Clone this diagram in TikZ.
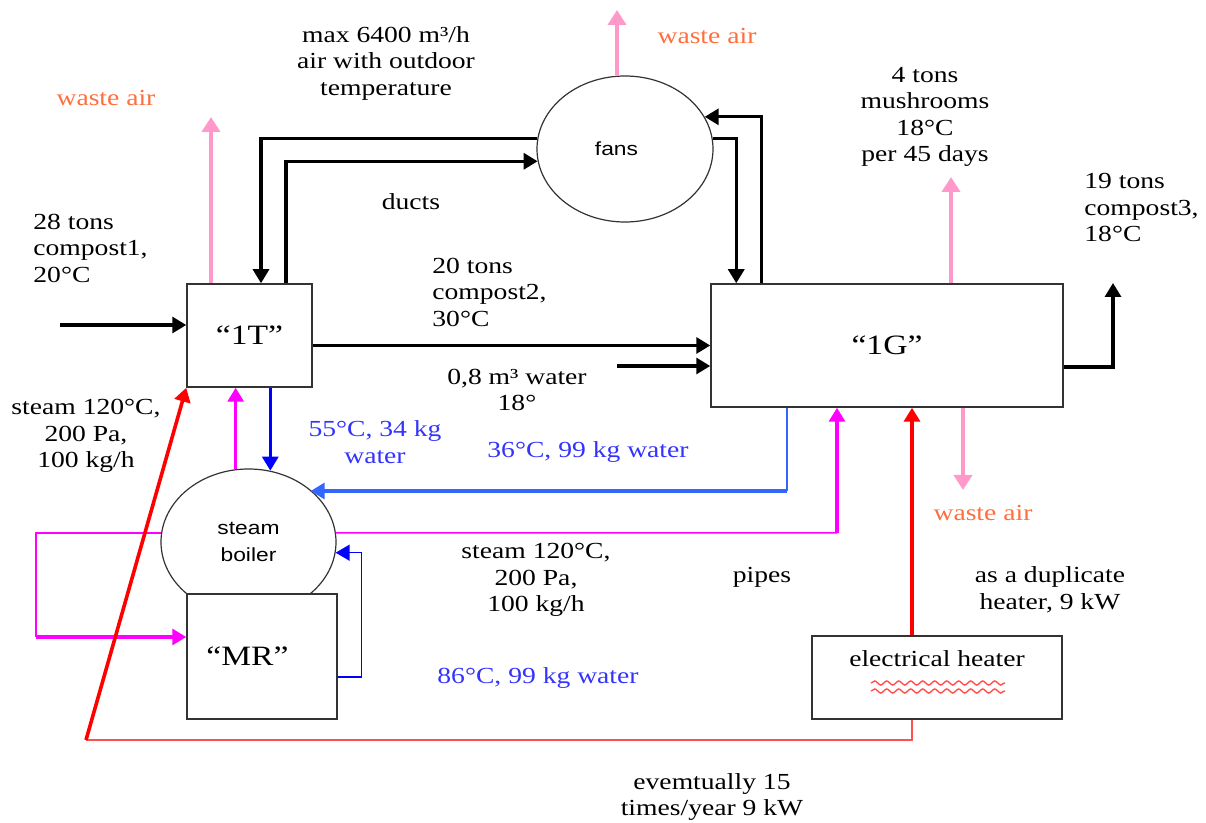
\documentclass[tikz,border=0pt]{standalone}
\usepackage{fontspec}
\setmainfont{Liberation Serif}[FakeStretch=1.2]
\setsansfont{Liberation Sans}[FakeStretch=1.2]
\usetikzlibrary{arrows.meta,calc,decorations.pathmorphing,shapes.geometric}
\definecolor{pinkc}{RGB}{255,153,204}
\definecolor{orangec}{RGB}{255,110,60}
\definecolor{magc}{RGB}{255,0,255}
\definecolor{blued}{RGB}{0,0,255}
\definecolor{bluel}{RGB}{51,102,255}
\definecolor{bluet}{RGB}{51,51,255}
\definecolor{redc}{RGB}{255,0,0}
\definecolor{redl}{RGB}{255,80,80}
\tikzset{
  tip/.style={-{Triangle[length=7pt,width=8pt]}},
  bigtip/.style={-{Triangle[length=7.5pt,width=9pt]}},
  box/.style={draw=black!80, line width=0.75pt, fill=white, inner sep=0pt},
  lbl/.style={font=\fontsize{11.5}{13.25}\selectfont, align=center, inner sep=0pt},
  big/.style={font=\fontsize{14}{16}\selectfont},
  sanslbl/.style={font=\sffamily\fontsize{9.5}{13.5}\selectfont, align=center},
  circ/.style={ellipse, draw=black!80, line width=0.6pt, inner sep=0pt},
  blk/.style={line width=1.6pt, tip},
  pinkarr/.style={pinkc, line width=2pt, bigtip},
  magthin/.style={magc, line width=0.75pt},
  magthick/.style={magc, line width=1.6pt, tip},
  bluethin/.style={bluel, line width=0.75pt},
  bluethick/.style={bluel, line width=1.6pt, tip},
  bluedark/.style={blued, line width=1.5pt, tip},
  bluedthin/.style={blued, line width=0.75pt, tip},
  redthick/.style={redc, line width=1.8pt, tip},
  redthin/.style={redl, line width=0.8pt},
  wastetxt/.style={lbl, text=orangec},
  bluetxt/.style={lbl, text=bluet},
}
\begin{document}
\begin{tikzpicture}[x=0.5pt,y=-0.5pt]
\useasboundingbox (0,0) rectangle (1206,823);

% ---------- nodes ----------
\node[circ, minimum width=88pt, minimum height=73pt, sanslbl] (fans) at (625,149) {fans\hspace{8.5pt}\null};
\node[circ, minimum width=87.5pt, minimum height=73pt, sanslbl] (boiler) at (248.5,542) {steam\\boiler};
\node[box, big, minimum width=62.5pt, minimum height=51.5pt] (T1) at (249.5,335.5) {“1T”};
\node[box, big, minimum width=176pt, minimum height=61.5pt] (G1) at (887,345.5) {“1G”};
\node[box, big, minimum width=75pt, minimum height=62.5pt] (MR) at (262,656.5) {“MR”\hspace{14.5pt}\null};
\node[box, minimum width=125pt, minimum height=41.5pt] (heater) at (937,677.5) {};
\node[lbl] (htxt) at (937,659) {electrical heater};
\draw[redl, line width=0.7pt, decorate, decoration={snake, segment length=6pt, amplitude=1pt}] (871,683) -- (1005,683);
\draw[redl, line width=0.7pt, decorate, decoration={snake, segment length=6pt, amplitude=1pt}] (871,691) -- (1005,691);

% ---------- free-end coordinates ----------
\coordinate (in1) at (60,325);
\coordinate (wa1) at (211,117);
\coordinate (wa2) at (617,10);
\coordinate (wa3) at (951,177);
\coordinate (wa4) at (963,490);
\coordinate (w08) at (617,366);
\coordinate (out3) at (1113,283);
\coordinate (hx) at (912,0);
\coordinate (rc) at (86,740);
\coordinate (mL) at (36,637);
\coordinate (mR) at (837,533);
\coordinate (bR) at (787,491);

% ---------- black connectors ----------
\draw[blk] (in1) -- (in1 -| T1.west);
\draw[blk] (fans.173) -| ($(T1.north)+(11.5,0)$);
\draw[blk] ($(T1.north)+(36.5,0)$) |- (fans.188);
\draw[blk] ($(G1.north west)+(51,0)$) |- (fans.22);
\draw[blk] (fans.7) -| ($(G1.north west)+(26,0)$);
\draw[blk] (G1.west -| T1.east) -- (G1.west);
\draw[blk] (w08) -- (w08 -| G1.west);
\draw[blk] ($(G1.east)+(0,21.5)$) -| (out3);

% ---------- waste air ----------
\draw[pinkarr] (wa1 |- T1.north) -- (wa1);
\draw[pinkarr] (wa2 |- fans.north) -- (wa2);
\draw[pinkarr] (wa3 |- G1.north) -- (wa3);
\draw[pinkarr] (wa4 |- G1.south) -- (wa4);

% ---------- steam (magenta) ----------
\draw[magthick] (boiler.100) -- (boiler.100 |- T1.south);
\draw[magthin] (boiler.174) -| (mL);
\draw[magthick] (mL) -- (mL -| MR.west);
\draw[magthin] (boiler.6) -- (mR);
\draw[magthick] (mR) -- (mR |- G1.south);

% ---------- water (blue) ----------
\draw[bluedark] (T1.south -| boiler.73) -- (boiler.73);
\draw[bluethin] (bR |- G1.south) -- (bR);
\draw[bluethick] (bR) -- (bR -| boiler.40);
\draw[bluedthin] ($(MR.east)+(0,20.5)$) -| ($(boiler.-7)+(26,0)$) -- (boiler.-7);

% ---------- heater (red) ----------
\draw[redthick] (hx |- heater.north) -- (hx |- G1.south);
\draw[redthin] (hx |- heater.south) |- (rc);
\draw[redthick] (rc) -- (T1.south west);

% ---------- labels ----------
\node[lbl] (t1) at (386,63) {max 6400 m³/h\\air with outdoor\\temperature};
\node[wastetxt] (t2) at (106,98) {waste air};
\node[wastetxt] (t3) at (707,36) {waste air};
\node[wastetxt] (t4) at (983,513) {waste air};
\node[lbl] (t5) at (411,202) {ducts};
\node[lbl, align=left, anchor=west] (t6) at (33,248) {28 tons\\compost1,\\20°C};
\node[lbl, align=left, anchor=west] (t7) at (432,292) {20 tons\\compost2,\\30°C};
\node[lbl] (t8) at (517,390) {0,8 m³ water\\18°};
\node[lbl] (t9) at (925,117) {4 tons\\mushrooms\\18°C\\per 45 days};
\node[lbl, align=left, anchor=west] (t10) at (1084,208) {19 tons\\compost3,\\18°C};
\node[lbl] (t11) at (86,436) {steam 120°C,\\200 Pa,\\100 kg/h};
\node[bluetxt] (t12) at (375,442) {55°C, 34 kg\\water};
\node[bluetxt] (t13) at (588,452) {36°C, 99 kg water};
\node[lbl] (t14) at (536,580) {steam 120°C,\\200 Pa,\\100 kg/h};
\node[bluetxt] (t15) at (538,678) {86°C, 99 kg water};
\node[lbl] (t16) at (762,577) {pipes};
\node[lbl] (t17) at (1050,590) {as a duplicate\\heater, 9 kW};
\node[lbl] (t18) at (712,797) {evemtually 15\\times/year 9 kW};
\end{tikzpicture}
\end{document}
